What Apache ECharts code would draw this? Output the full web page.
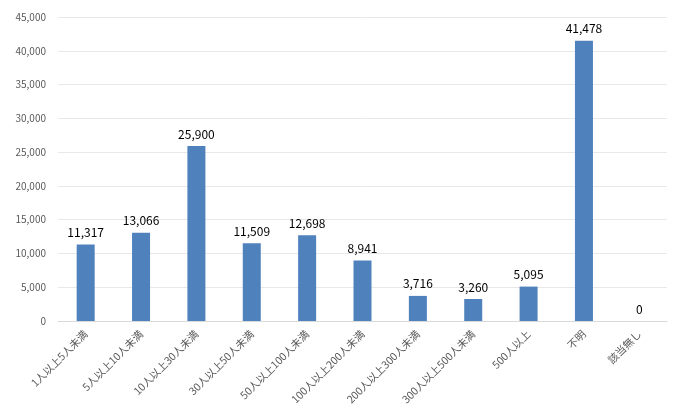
<!DOCTYPE html>
<html><head><meta charset="utf-8">
<script src="https://cdn.jsdelivr.net/npm/echarts@6/dist/echarts.min.js"></script>
<style>html,body{margin:0;padding:0;background:#fff}#c{width:688px;height:415px}</style>
</head><body><div id="c"></div>
<script>
const categories = ["1人以上5人未満","5人以上10人未満","10人以上30人未満","30人以上50人未満","50人以上100人未満","100人以上200人未満","200人以上300人未満","300人以上500人未満","500人以上","不明","該当無し"];
const values = [11317,13066,25900,11509,12698,8941,3716,3260,5095,41478,0];
const yMin = 0, yMax = 45000, yInterval = 5000;
const font = '"Noto Sans CJK JP", "Noto Sans", sans-serif';
const chart = echarts.init(document.getElementById('c'), null, {renderer:'canvas'});
chart.setOption({
  animation:false,
  grid:{left:58,right:21,top:17,bottom:94,containLabel:false},
  xAxis:{type:'category',data:categories,
    axisLine:{lineStyle:{color:'#D9D9D9'}},axisTick:{show:false},
    axisLabel:{rotate:45,interval:0,fontSize:10.5,color:'#595959',fontFamily:font,margin:11}},
  yAxis:{type:'value',min:yMin,max:yMax,interval:yInterval,
    axisLine:{show:false},axisTick:{show:false},
    splitLine:{lineStyle:{color:'#E8E8E8'}},
    axisLabel:{fontSize:10,color:'#595959',fontFamily:font,margin:12,
      formatter:v=>v.toLocaleString('en-US')}},
  series:[{type:'bar',data:values,barWidth:18,
    itemStyle:{color:'#4F81BD',borderWidth:0},
    label:{show:true,position:'top',distance:6,fontSize:12,color:'#000',fontFamily:font,
      formatter:p=>p.value.toLocaleString('en-US')}}]
});
</script></body></html>
